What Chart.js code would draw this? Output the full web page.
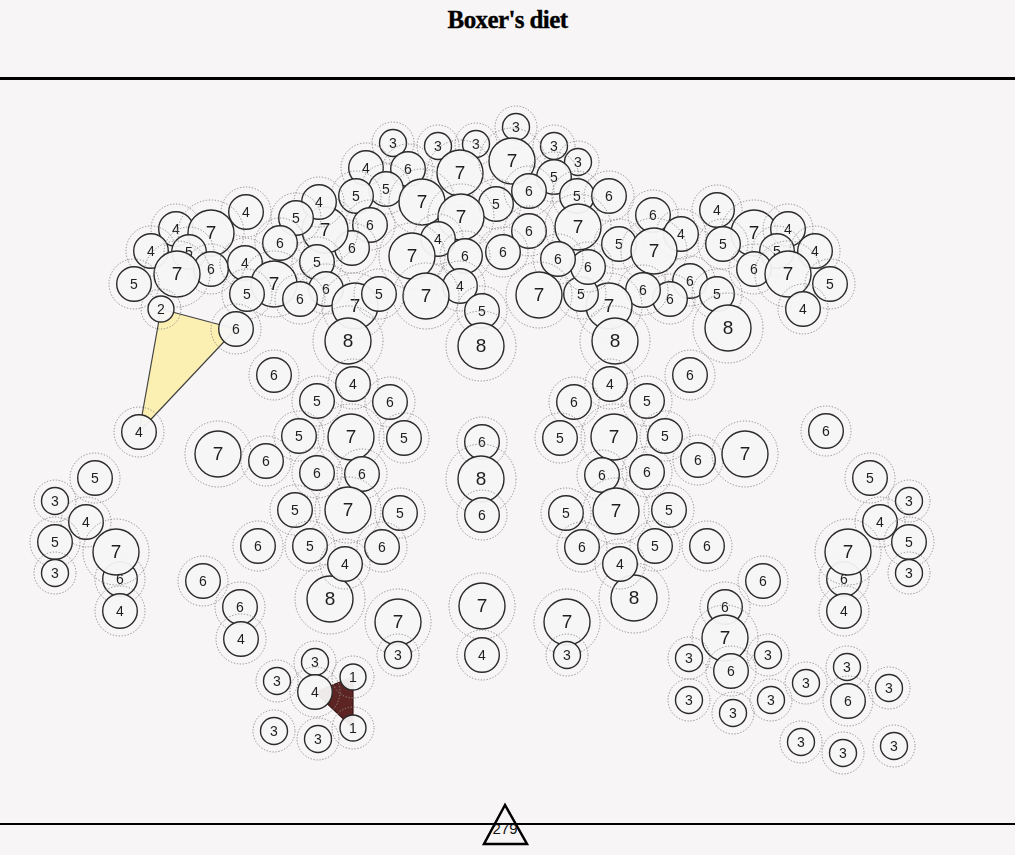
<!DOCTYPE html>
<html>
<head>
<meta charset="utf-8">
<title>Boxer's diet</title>
<script src="https://cdn.jsdelivr.net/npm/chart.js@4.4.1/dist/chart.umd.min.js"></script>
<style>
    html, body { margin: 0; padding: 0; background: #f7f5f6; }
    #wrap { position: relative; width: 1015px; height: 855px; overflow: hidden; }
    #title {
        position: absolute; top: 6px; left: 0; width: 1015px; text-align: center;
        font: bold 25px 'Liberation Serif', 'DejaVu Serif', serif; color: #000; letter-spacing: -0.6px;
        -webkit-text-stroke: 0.35px #000;
    }
    .rule { position: absolute; left: 0; width: 1015px; background: #000; }
    #chart { position: absolute; left: 0; top: 0; }
    #count { position: absolute; left: 0; top: 0; }
</style>
</head>
<body>
<div id="wrap">
    <div id="title">Boxer's diet</div>
    <div class="rule" style="top:77px;height:3px"></div>
    <div class="rule" style="top:823px;height:2px"></div>
    <svg id="count" width="1015" height="855">
        <polygon points="505,805 484,844 527,844" fill="none" stroke="#000" stroke-width="2.5" stroke-linejoin="miter"/>
        <text x="505" y="834" text-anchor="middle" font-family="Liberation Sans, Arial, sans-serif" font-size="15" fill="#111">279</text>
    </svg>
    <canvas id="chart" width="1015" height="855"></canvas>
</div>
<script>
// node values and positions (drawing order = back to front)
const nodeValue = [
    3, 3, 3, 3, 3, 3, 4, 6, 7, 7, 5, 5, 5, 7, 5, 6, 5, 6, 7, 6,
    4, 6, 7, 6, 4, 5, 7, 4, 7, 4, 5, 5, 4, 6, 7, 5, 6, 6, 6, 5,
    4, 8, 7, 5, 6, 6, 7, 8, 6, 6, 7, 4, 7, 5, 8, 6, 7, 4, 5, 6,
    5, 6, 7, 5, 8, 4, 4, 7, 4, 5, 6, 4, 7, 5, 7, 5, 6, 2, 6,
    6, 4, 5, 6, 4, 5, 7, 5, 7, 6, 6, 6, 5, 7, 5, 6, 5, 6, 8, 4,
    7, 3, 6, 6, 4,
    5, 3, 4, 5, 6, 7, 3, 4,
    6, 8, 6, 7, 4,
    6, 4, 6, 5, 5, 7, 5, 6, 7, 6, 6, 5, 7, 5, 6, 5, 6, 8, 4, 7,
    3, 6, 6, 7,
    6, 5, 3, 4, 5, 6, 7, 3, 4,
    3, 3, 4, 1, 1, 3, 3,
    3, 3, 6, 3, 3, 3, 3, 3, 6, 3, 3, 3, 3
];
const nodeX = [
    393, 438, 476, 516, 554, 578, 366, 408, 460, 512, 554, 386, 356, 422, 496, 529, 577, 609, 461, 370,
    438, 529, 578, 653, 681, 619, 654, 717, 754, 788, 723, 777, 815, 754, 788, 830, 690, 670, 643, 717,
    803, 728, 609, 581, 588, 558, 539, 615, 503, 465, 412, 460, 426, 482, 481, 352, 325, 319, 296, 280,
    317, 326, 355, 379, 348, 246, 176, 211, 151, 189, 211, 245, 177, 134, 274, 247, 300, 161, 236,
    274, 353, 317, 390, 139, 299, 351, 404, 218, 266, 317, 362, 295, 348, 400, 258, 310, 382, 330, 345,
    398, 398, 203, 240, 241,
    95, 55, 86, 55, 120, 116, 55, 120,
    482, 481, 482, 482, 482,
    690, 610, 574, 647, 560, 614, 665, 698, 745, 602, 647, 566, 616, 669, 582, 655, 707, 634, 620, 567,
    567, 763, 725, 725,
    826, 870, 909, 880, 909, 844, 848, 909, 844,
    315, 277, 315, 353, 353, 274, 318,
    689, 768, 731, 689, 733, 771, 806, 847, 848, 889, 801, 843, 894
];
const nodeY = [
    143, 146, 144, 127, 146, 162, 168, 169, 173, 161, 177, 189, 196, 202, 204, 191, 196, 196, 217, 225,
    239, 231, 227, 215, 234, 244, 251, 210, 233, 229, 244, 251, 251, 269, 274, 284, 281, 299, 290, 294,
    309, 328, 306, 294, 267, 259, 295, 341, 252, 256, 256, 286, 296, 311, 346, 248, 230, 202, 218, 243,
    262, 289, 306, 294, 341, 212, 229, 233, 251, 252, 269, 263, 274, 284, 284, 294, 299, 309, 329,
    375, 384, 401, 402, 432, 436, 437, 438, 454, 461, 473, 474, 510, 510, 513, 546, 546, 547, 599, 564,
    622, 655, 581, 607, 639,
    478, 501, 522, 542, 579, 552, 573, 611,
    442, 479, 515, 606, 655,
    375, 384, 402, 401, 438, 437, 436, 460, 454, 475, 472, 513, 511, 510, 547, 546, 546, 598, 564, 622,
    655, 581, 607, 638,
    431, 478, 501, 522, 542, 579, 552, 573, 611,
    662, 681, 692, 677, 728, 731, 739,
    658, 655, 671, 700, 713, 700, 683, 667, 701, 688, 742, 753, 746
];

// the two highlighted shapes
const yellowX = [161, 236, 139];
const yellowY = [309, 329, 432];
const maroonX = [315, 353, 353];
const maroonY = [692, 677, 728];

const circleR = { 1: 13, 2: 13, 3: 13.5, 4: 17.3, 5: 17.3, 6: 17.3, 7: 23, 8: 23 };
const ringR = { 1: 21, 2: 20, 3: 21, 4: 25, 5: 25, 6: 25, 7: 33, 8: 35 };

// one small canvas per value: dotted halo, filled circle, number
function makeBubble(v) {
    const half = Math.ceil(ringR[v] + 2);
    const c = document.createElement('canvas');
    c.width = c.height = half * 2;
    const g = c.getContext('2d');

    g.beginPath();
    g.arc(half, half, ringR[v], 0, Math.PI * 2);
    g.setLineDash([1.3, 1.7]);
    g.lineWidth = 1;
    g.strokeStyle = '#8c8c8c';
    g.stroke();
    g.setLineDash([]);

    g.beginPath();
    g.arc(half, half, circleR[v], 0, Math.PI * 2);
    g.fillStyle = 'rgba(247,245,246,0.95)';
    g.fill();
    g.lineWidth = 1.4;
    g.strokeStyle = '#2b2b2b';
    g.stroke();

    g.fillStyle = '#1e1e1e';
    g.font = (v >= 7 ? '19px' : '14px') + ' "Liberation Sans", Arial, sans-serif';
    g.textAlign = 'center';
    g.textBaseline = 'middle';
    g.fillText(String(v), half, half + 1);
    return c;
}

const bubbleImg = {};
for (let v = 1; v <= 8; v++) bubbleImg[v] = makeBubble(v);

const nodes = nodeX.map((x, i) => ({ x: x, y: nodeY[i], v: nodeValue[i] }));
const closeLoop = (xs, ys) => xs.map((x, i) => ({ x: x, y: ys[i] })).concat([{ x: xs[0], y: ys[0] }]);

new Chart(document.getElementById('chart'), {
    type: 'scatter',
    data: {
        datasets: [{
            data: nodes,
            pointStyle: ctx => bubbleImg[ctx.raw.v],
            pointRadius: ctx => ringR[ctx.raw.v],
            clip: false,
            order: 1
        }, {
            type: 'line',
            data: closeLoop(yellowX, yellowY),
            fill: 'shape',
            backgroundColor: '#fbefb1',
            borderColor: '#444',
            borderWidth: 1.2,
            pointRadius: 0,
            tension: 0,
            order: 2
        }, {
            type: 'line',
            data: closeLoop(maroonX, maroonY),
            fill: 'shape',
            backgroundColor: '#5c2422',
            borderColor: '#3a1514',
            borderWidth: 1.2,
            pointRadius: 0,
            tension: 0,
            order: 3
        }]
    },
    options: {
        responsive: false,
        animation: false,
        events: [],
        layout: { padding: 0, autoPadding: false },
        plugins: { legend: { display: false }, tooltip: { enabled: false }, title: { display: false } },
        scales: {
            x: { type: 'linear', min: 0, max: 1015, display: false },
            y: { type: 'linear', min: 0, max: 855, reverse: true, display: false }
        }
    }
});
</script>
</body>
</html>
